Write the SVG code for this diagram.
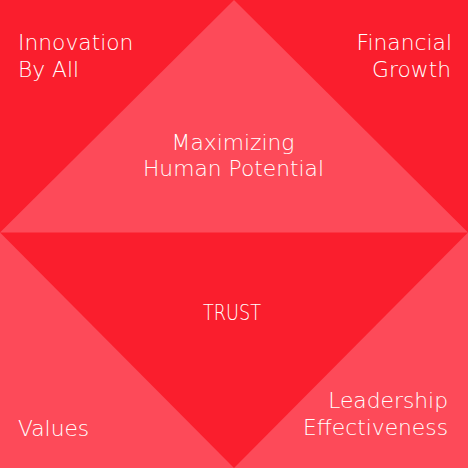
<svg xmlns="http://www.w3.org/2000/svg" width="474" height="468" viewBox="0 0 474 468">
<style>
.dark{fill:#FA1E2D}
.light{fill:#FD4A59}
.t{fill:#FFFFFF;font-family:"DejaVu Sans","Liberation Sans",sans-serif;font-size:21.8px;font-weight:200}
.s{text-anchor:start}
.m{text-anchor:middle}
.e{text-anchor:end}
</style>
<rect x="0" y="0" width="474" height="468" fill="#FFFFFF"/>
<g id="corner-top-left"><rect class="dark" x="0" y="0" width="468" height="468"/></g>
<g id="top-triangle"><polygon class="light" points="0,232.5 234,0 468,232.5"/></g>
<g id="bottom-left"><polygon class="light" points="0,232.5 234,468 0,468"/></g>
<g id="bottom-right"><polygon class="light" points="468,232.5 468,468 234,468"/></g>
<g id="connectors"></g>
<g id="innovation"><text class="t s" x="18" y="49.5">Innovation</text><text class="t s" x="18" y="77">By All</text></g>
<g id="financial"><text class="t e" x="452" y="49.5">Financial</text><text class="t e" x="451" y="77">Growth</text></g>
<g id="maximizing"><text class="t m" x="233" y="149.5">Maximizing</text><text class="t m" x="233.5" y="175.5">Human Potential</text></g>
<g id="trust"><text class="t m" x="232" y="320" font-size="23" textLength="58" lengthAdjust="spacingAndGlyphs">TRUST</text></g>
<g id="values"><text class="t s" x="18" y="436">Values</text></g>
<g id="leadership"><text class="t e" x="448" y="408">Leadership</text><text class="t e" x="448" y="435">Effectiveness</text></g>
</svg>
